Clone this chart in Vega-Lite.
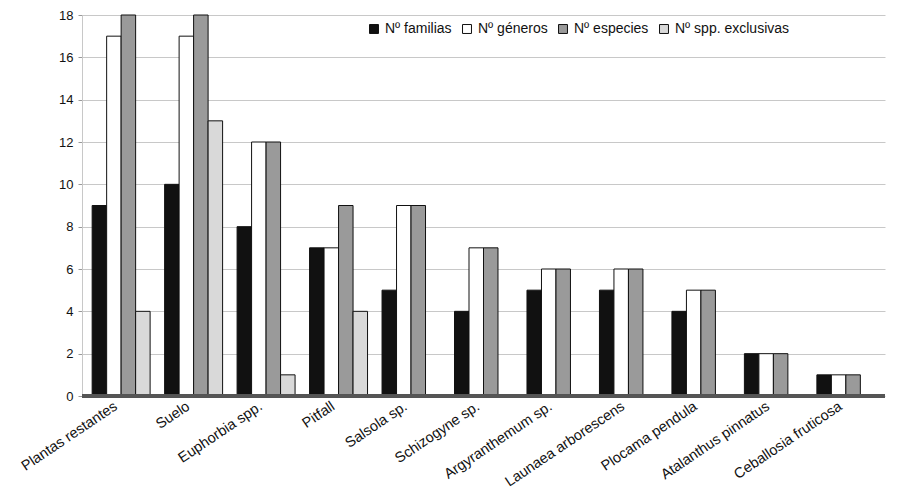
{
  "$schema": "https://vega.github.io/schema/vega-lite/v6.json",
  "autosize": {"type": "none"},
  "padding": {"left": 82, "top": 15, "right": 18, "bottom": 105},
  "width": 803,
  "height": 381,
  "background": "white",
  "config": {
    "font": "Liberation Sans",
    "view": {"stroke": null},
    "axis": {"labelColor": "#111", "labelFontSize": 13, "titleColor": "#111"}
  },
  "data": {
    "values": [
      {"sitio": "Plantas restantes", "serie": "Nº familias", "n": 9},
      {"sitio": "Plantas restantes", "serie": "Nº géneros", "n": 17},
      {"sitio": "Plantas restantes", "serie": "Nº especies", "n": 18},
      {"sitio": "Plantas restantes", "serie": "Nº spp. exclusivas", "n": 4},
      {"sitio": "Suelo", "serie": "Nº familias", "n": 10},
      {"sitio": "Suelo", "serie": "Nº géneros", "n": 17},
      {"sitio": "Suelo", "serie": "Nº especies", "n": 18},
      {"sitio": "Suelo", "serie": "Nº spp. exclusivas", "n": 13},
      {"sitio": "Euphorbia spp.", "serie": "Nº familias", "n": 8},
      {"sitio": "Euphorbia spp.", "serie": "Nº géneros", "n": 12},
      {"sitio": "Euphorbia spp.", "serie": "Nº especies", "n": 12},
      {"sitio": "Euphorbia spp.", "serie": "Nº spp. exclusivas", "n": 1},
      {"sitio": "Pitfall", "serie": "Nº familias", "n": 7},
      {"sitio": "Pitfall", "serie": "Nº géneros", "n": 7},
      {"sitio": "Pitfall", "serie": "Nº especies", "n": 9},
      {"sitio": "Pitfall", "serie": "Nº spp. exclusivas", "n": 4},
      {"sitio": "Salsola sp.", "serie": "Nº familias", "n": 5},
      {"sitio": "Salsola sp.", "serie": "Nº géneros", "n": 9},
      {"sitio": "Salsola sp.", "serie": "Nº especies", "n": 9},
      {"sitio": "Salsola sp.", "serie": "Nº spp. exclusivas", "n": 0},
      {"sitio": "Schizogyne sp.", "serie": "Nº familias", "n": 4},
      {"sitio": "Schizogyne sp.", "serie": "Nº géneros", "n": 7},
      {"sitio": "Schizogyne sp.", "serie": "Nº especies", "n": 7},
      {"sitio": "Schizogyne sp.", "serie": "Nº spp. exclusivas", "n": 0},
      {"sitio": "Argyranthemum sp.", "serie": "Nº familias", "n": 5},
      {"sitio": "Argyranthemum sp.", "serie": "Nº géneros", "n": 6},
      {"sitio": "Argyranthemum sp.", "serie": "Nº especies", "n": 6},
      {"sitio": "Argyranthemum sp.", "serie": "Nº spp. exclusivas", "n": 0},
      {"sitio": "Launaea arborescens", "serie": "Nº familias", "n": 5},
      {"sitio": "Launaea arborescens", "serie": "Nº géneros", "n": 6},
      {"sitio": "Launaea arborescens", "serie": "Nº especies", "n": 6},
      {"sitio": "Launaea arborescens", "serie": "Nº spp. exclusivas", "n": 0},
      {"sitio": "Plocama pendula", "serie": "Nº familias", "n": 4},
      {"sitio": "Plocama pendula", "serie": "Nº géneros", "n": 5},
      {"sitio": "Plocama pendula", "serie": "Nº especies", "n": 5},
      {"sitio": "Plocama pendula", "serie": "Nº spp. exclusivas", "n": 0},
      {"sitio": "Atalanthus pinnatus", "serie": "Nº familias", "n": 2},
      {"sitio": "Atalanthus pinnatus", "serie": "Nº géneros", "n": 2},
      {"sitio": "Atalanthus pinnatus", "serie": "Nº especies", "n": 2},
      {"sitio": "Atalanthus pinnatus", "serie": "Nº spp. exclusivas", "n": 0},
      {"sitio": "Ceballosia fruticosa", "serie": "Nº familias", "n": 1},
      {"sitio": "Ceballosia fruticosa", "serie": "Nº géneros", "n": 1},
      {"sitio": "Ceballosia fruticosa", "serie": "Nº especies", "n": 1},
      {"sitio": "Ceballosia fruticosa", "serie": "Nº spp. exclusivas", "n": 0}
    ]
  },
  "layer": [
    {
      "mark": {"type": "bar", "stroke": "#111", "strokeWidth": 1},
      "encoding": {
        "x": {
          "field": "sitio", "type": "nominal", "sort": null,
          "scale": {"paddingInner": 0.2, "paddingOuter": 0.14},
          "axis": {
            "title": null, "labelAngle": -34, "labelAlign": "right", "labelBaseline": "top",
            "ticks": false, "domain": false, "labelPadding": 3, "labelOffset": -9, "labelFontSize": 14.5
          }
        },
        "xOffset": {"field": "serie", "type": "nominal", "sort": ["Nº familias", "Nº géneros", "Nº especies", "Nº spp. exclusivas"]},
        "y": {
          "field": "n", "type": "quantitative",
          "scale": {"domain": [0, 18], "nice": false},
          "axis": {
            "title": null, "values": [0, 2, 4, 6, 8, 10, 12, 14, 16, 18],
            "gridColor": "#c8c8c8", "gridWidth": 1, "domainColor": "#c8c8c8",
            "tickColor": "#999", "tickSize": 4, "labelPadding": 5
          }
        },
        "fill": {
          "field": "serie", "type": "nominal",
          "sort": ["Nº familias", "Nº géneros", "Nº especies", "Nº spp. exclusivas"],
          "scale": {
            "domain": ["Nº familias", "Nº géneros", "Nº especies", "Nº spp. exclusivas"],
            "range": ["#111111", "#ffffff", "#9a9a9a", "#d9d9d9"]
          },
          "legend": {
            "title": null, "orient": "none", "legendX": 285, "legendY": 7,
            "direction": "horizontal", "symbolType": "square", "symbolSize": 80,
            "symbolStrokeColor": "#111", "symbolStrokeWidth": 1,
            "labelFontSize": 14, "labelColor": "#111", "columnPadding": 8, "symbolOffset": 0,
            "labelOffset": 4
          }
        }
      }
    },
    {
      "mark": {"type": "rule", "color": "#555", "strokeWidth": 3},
      "encoding": {"y": {"datum": 0}}
    }
  ]
}
